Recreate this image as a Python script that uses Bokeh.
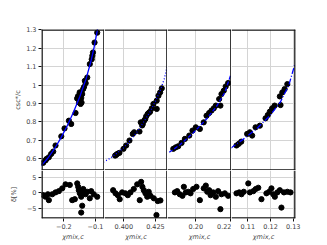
from bokeh.plotting import figure
from bokeh.layouts import row, column
from bokeh.models import Range1d, FixedTicker, Span
from bokeh.embed import file_html
from bokeh.resources import INLINE

# ---------------- data ----------------
# panel 1
x1 = [-0.265, -0.2546, -0.258, -0.2473, -0.240, -0.2334, -0.2262, -0.208, -0.1978, -0.184,
      -0.1767, -0.163, -0.158, -0.155, -0.152, -0.150, -0.1495, -0.147, -0.145, -0.144,
      -0.142, -0.139, -0.136, -0.1337, -0.131, -0.126, -0.118, -0.112, -0.110, -0.108,
      -0.103, -0.0946]
y1 = [0.577, 0.598, 0.590, 0.607, 0.625, 0.638, 0.671, 0.721, 0.764, 0.806,
      0.788, 0.848, 0.927, 0.940, 0.905, 0.960, 0.915, 0.897, 0.930, 0.905,
      0.951, 0.978, 0.990, 1.023, 1.010, 1.041, 1.114, 1.140, 1.159, 1.177,
      1.231, 1.285]
fx1 = [-0.272, -0.250, -0.230, -0.210, -0.190, -0.170, -0.150, -0.130, -0.115, -0.105, -0.095, -0.088]
fy1 = [0.560, 0.603, 0.652, 0.710, 0.776, 0.850, 0.935, 1.032, 1.125, 1.200, 1.290, 1.360]
rx1 = [-0.265, -0.2577, -0.2505, -0.2473, -0.2366, -0.2262, -0.2158, -0.2050, -0.1946, -0.1811,
       -0.1735, -0.1653, -0.1577, -0.1546, -0.1527, -0.1495, -0.1451, -0.1420, -0.1451, -0.1388,
       -0.1369, -0.1315, -0.1262, -0.1180, -0.1136, -0.1054, -0.0946]
rd1 = [-0.8, -1.3, -0.5, -2.4, -0.5, 0.1, 0.5, 1.4, 2.7, 2.5,
       -2.4, -2.1, 3.0, 1.9, 0.8, -0.2, -1.3, -4.2, -6.4, 1.2,
       0.5, -0.5, 0.3, -1.8, 0.5, -0.5, -1.3]

# panel 2
x2 = [0.3932, 0.3940, 0.3950, 0.3966, 0.3998, 0.4019, 0.4045, 0.4071, 0.4082, 0.4124,
      0.4134, 0.4145, 0.4150, 0.4161, 0.4170, 0.4177, 0.4189, 0.4200, 0.4208, 0.4221,
      0.4234, 0.4260, 0.4260, 0.4274, 0.4287, 0.4300]
y2 = [0.616, 0.620, 0.626, 0.631, 0.653, 0.671, 0.698, 0.734, 0.743, 0.747,
      0.797, 0.780, 0.788, 0.806, 0.815, 0.830, 0.843, 0.850, 0.855, 0.873,
      0.897, 0.870, 0.915, 0.942, 0.960, 0.982]
fx2 = [0.3840, 0.3893, 0.3945, 0.3998, 0.4051, 0.4103, 0.4155, 0.4208, 0.4248, 0.4287, 0.4319, 0.4345]
fy2 = [0.580, 0.602, 0.629, 0.658, 0.698, 0.743, 0.797, 0.855, 0.909, 0.969, 1.032, 1.108]
rx2 = [0.3916, 0.3935, 0.3953, 0.3968, 0.3987, 0.4013, 0.4032, 0.4053, 0.4079, 0.4106,
       0.4126, 0.4137, 0.4147, 0.4158, 0.4171, 0.4185, 0.4197, 0.4211, 0.4237, 0.4268,
       0.4258, 0.4289]
rd2 = [0.8, -0.2, -0.8, -2.1, 0.1, -0.2, -0.8, 0.1, 1.2, 2.7,
       -2.4, 3.5, 1.9, 0.8, -0.2, -1.3, 0.3, -1.0, -1.8, -2.7,
       -7.2, -2.5]

# panel 3
x3 = [0.1872, 0.1886, 0.1900, 0.1919, 0.1938, 0.1963, 0.1981, 0.2000, 0.2023, 0.2045,
      0.2061, 0.2076, 0.2089, 0.2102, 0.2114, 0.2140, 0.2133, 0.2146, 0.2159, 0.2170,
      0.2184]
y3 = [0.653, 0.661, 0.667, 0.685, 0.707, 0.725, 0.752, 0.770, 0.761, 0.797,
      0.833, 0.848, 0.861, 0.873, 0.888, 0.888, 0.924, 0.951, 0.969, 0.992,
      1.011]
fx3 = [0.1849, 0.1909, 0.1985, 0.2061, 0.2118, 0.2165, 0.2197]
fy3 = [0.634, 0.674, 0.739, 0.815, 0.884, 0.960, 1.050]
rx3 = [0.1881, 0.1894, 0.1909, 0.1924, 0.1932, 0.1943, 0.1957, 0.1970, 0.1985, 0.2004,
       0.2023, 0.2045, 0.2057, 0.2065, 0.2076, 0.2084, 0.2099, 0.2114, 0.2127, 0.2140,
       0.2146, 0.2165, 0.2184]
rd3 = [0.1, 0.5, -0.5, -1.0, 1.9, 0.1, 0.3, -0.2, 1.2, 1.9,
       -2.4, 1.4, 2.3, 0.3, 0.8, -0.8, 0.1, -1.3, 0.5, -5.3,
       -0.5, -0.2, -1.0]

# panel 4
x4 = [0.1050, 0.1060, 0.1071, 0.1097, 0.1109, 0.1119, 0.1134, 0.1153, 0.1178, 0.1188,
      0.1197, 0.1207, 0.1218, 0.1244, 0.1241, 0.1252, 0.1262, 0.1274]
y4 = [0.671, 0.680, 0.692, 0.734, 0.743, 0.725, 0.770, 0.779, 0.819, 0.837,
      0.855, 0.873, 0.888, 0.891, 0.938, 0.960, 0.978, 1.005]
fx4 = [0.1024, 0.1082, 0.1141, 0.1200, 0.1244, 0.1281, 0.1306]
fy4 = [0.656, 0.707, 0.765, 0.837, 0.909, 1.000, 1.108]
rx4 = [0.1050, 0.1062, 0.1072, 0.1082, 0.1102, 0.1109, 0.1124, 0.1135, 0.1146, 0.1160,
       0.1182, 0.1194, 0.1204, 0.1212, 0.1219, 0.1230, 0.1241, 0.1248, 0.1259, 0.1274,
       0.1288]
rd4 = [-0.2, 0.1, -0.5, 0.3, 3.0, 0.1, 0.5, 1.2, 1.6, -2.1,
       -0.2, 0.3, 1.4, -0.5, -1.3, 0.1, 0.8, -4.8, 0.1, 0.3,
       0.1]

x_ranges = [(-0.2705, -0.0716), (0.3848, 0.4345), (0.1839, 0.2203), (0.1028, 0.1310)]
x_ticks = [[-0.2, -0.1], [0.400, 0.425], [0.20, 0.22], [0.11, 0.12, 0.13]]
x_tick_labels = [["\u22120.2", "\u22120.1"], ["0.400", "0.425"], ["0.20", "0.22"], ["0.11", "0.12", "0.13"]]
y_ticks_top = [0.6, 0.7, 0.8, 0.9, 1.0, 1.1, 1.2, 1.3]
y_ticks_bot = [-5, 0, 5]
y_tick_labels_bot = ["\u22125", "0", "5"]
dashes = ["solid", "1 2", "4 2", "6 2 1 2"]

panels = [(x1, y1, fx1, fy1, rx1, rd1), (x2, y2, fx2, fy2, rx2, rd2),
          (x3, y3, fx3, fy3, rx3, rd3), (x4, y4, fx4, fy4, rx4, rd4)]
frame_w = [63, 63, 64, 64]
TOP_H = 141
BOT_H = 48

FONT = "DejaVu Sans"
GRID = "#d4d4d4"
SPINE = "#111111"

yr_top = Range1d(0.535, 1.302)
yr_bot = Range1d(-8.32, 7.16)


def spine(fig, loc, dim):
    fig.add_layout(Span(location=loc, dimension=dim, line_color=SPINE, line_width=1.6, level="overlay"))


cols = []
for i, (xs, ys, fxs, fys, rxs, rds) in enumerate(panels):
    xr = Range1d(*x_ranges[i])
    first = i == 0
    last = i == 3
    top = figure(x_range=xr, y_range=yr_top, frame_width=frame_w[i], frame_height=TOP_H,
                 output_backend="svg", toolbar_location=None,
                 x_axis_location=None, y_axis_location="left" if first else None,
                 min_border_left=41 if first else 0, min_border_right=8 if last else 0,
                 min_border_top=29, min_border_bottom=0,
                 outline_line_color=None,
                 background_fill_color="white", border_fill_color="white")
    bot = figure(x_range=xr, y_range=yr_bot, frame_width=frame_w[i], frame_height=BOT_H,
                 output_backend="svg", toolbar_location=None,
                 y_axis_location="left" if first else None,
                 min_border_left=41 if first else 0, min_border_right=8 if last else 0,
                 min_border_top=0, min_border_bottom=0,
                 outline_line_color=None,
                 background_fill_color="white", border_fill_color="white")
    for f in (top, bot):
        f.xgrid.ticker = FixedTicker(ticks=x_ticks[i])
        f.xgrid.grid_line_color = GRID
        f.ygrid.grid_line_color = GRID
        f.xgrid.grid_line_width = 1
        f.ygrid.grid_line_width = 1
    top.ygrid.ticker = FixedTicker(ticks=y_ticks_top)
    bot.ygrid.ticker = FixedTicker(ticks=y_ticks_bot)

    top.scatter(xs, ys, size=5.2, color="black")
    top.line(fxs, fys, line_color="blue", line_width=1.3, line_dash=dashes[i])
    bot.scatter(rxs, rds, size=5.2, color="black")

    # spines, drawn half a pixel inside each frame edge
    hx = (xr.end - xr.start) / frame_w[i] * 0.5
    ht = (yr_top.end - yr_top.start) / TOP_H * 0.5
    hb = (yr_bot.end - yr_bot.start) / BOT_H * 0.5
    spine(top, yr_top.end - ht, "width")
    spine(top, yr_top.start + ht, "width")
    spine(bot, yr_bot.start + hb, "width")
    spine(top, xr.end - hx, "height")
    spine(bot, xr.end - hx, "height")
    if first:
        spine(top, xr.start + hx, "height")
        spine(bot, xr.start + hx, "height")

    # x axis on bottom panel
    ax = bot.xaxis[0]
    ax.ticker = FixedTicker(ticks=x_ticks[i])
    ax.major_label_overrides = {t: l for t, l in zip(x_ticks[i], x_tick_labels[i])}
    ax.axis_label = "\u03c7mix,c"
    ax.axis_label_text_font = FONT
    ax.axis_label_text_font_style = "italic"
    ax.axis_label_text_font_size = "6.5px"
    ax.axis_label_standoff = 1
    ax.major_label_text_font = FONT
    ax.major_label_text_font_size = "6.5px"
    ax.major_label_standoff = 2
    ax.major_tick_out = 3
    ax.major_tick_in = 0
    ax.minor_tick_out = 0
    ax.minor_tick_in = 0
    ax.axis_line_color = None
    ax.major_tick_line_color = SPINE

    if first:
        for f, ticks, lab in ((top, y_ticks_top, "csc*/c"), (bot, y_ticks_bot, "\u03b4[%]")):
            ay = f.yaxis[0]
            ay.ticker = FixedTicker(ticks=ticks)
            if f is bot:
                ay.major_label_overrides = {t: l for t, l in zip(y_ticks_bot, y_tick_labels_bot)}
                ay.axis_label_standoff = 6
            else:
                ay.axis_label_standoff = 1
            ay.axis_label = lab
            ay.axis_label_text_font = FONT
            ay.axis_label_text_font_style = "normal"
            ay.axis_label_text_font_size = "6.5px"
            ay.major_label_text_font = FONT
            ay.major_label_text_font_size = "6.5px"
            ay.major_label_standoff = 2
            ay.major_tick_out = 3
            ay.major_tick_in = 0
            ay.minor_tick_out = 0
            ay.minor_tick_in = 0
            ay.axis_line_color = None
            ay.major_tick_line_color = SPINE
    cols.append(column(top, bot, spacing=0))

layout = row(*cols, spacing=0)

with open("out.html", "w") as fh:
    fh.write(file_html(layout, INLINE))
